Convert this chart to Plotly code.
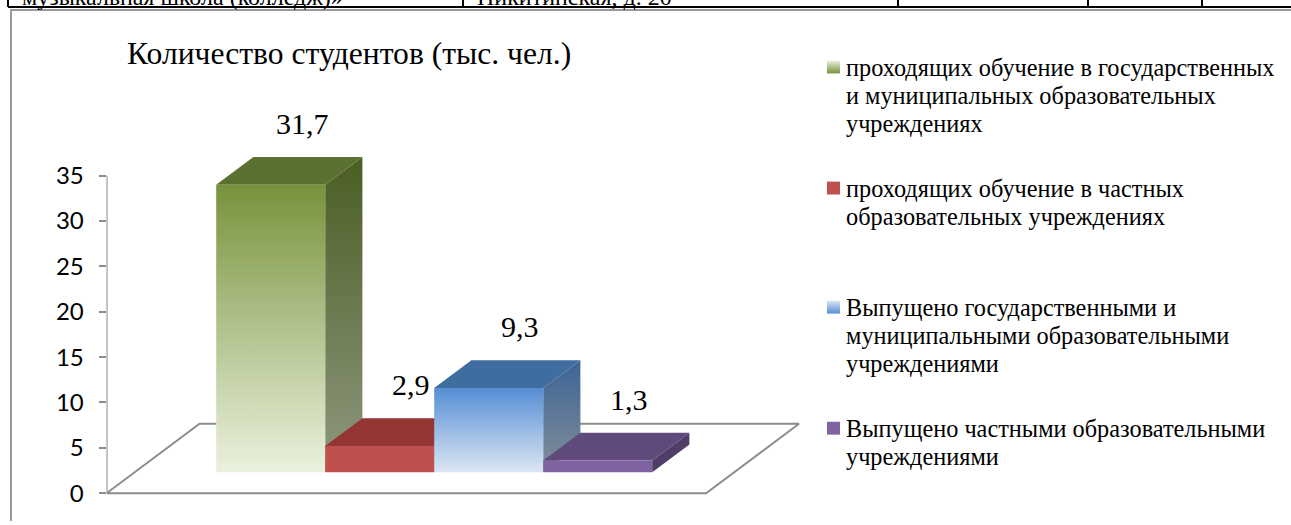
import plotly.graph_objects as go

# ---------------- data ----------------
TITLE = "Количество студентов (тыс. чел.)"
SERIES = [
    ["проходящих обучение в государственных", "и муниципальных образовательных", "учреждениях"],
    ["проходящих обучение в частных", "образовательных учреждениях"],
    ["Выпущено государственными и", "муниципальными образовательными", "учреждениями"],
    ["Выпущено частными образовательными", "учреждениями"],
]
VALUES = [31.7, 2.9, 9.3, 1.3]
Y_TICKS = [0, 5, 10, 15, 20, 25, 30, 35]
TABLE_TEXT = ["музыкальная школа (колледж)»", "Никитинская, д. 20"]

# ---------------- styles ----------------
FRONT = [("#EBF1DE", "#77933C"), ("#C0504D", "#C0504D"), ("#DCE6F2", "#558ED5"), ("#8064A2", "#8064A2")]
TOP = ["#5B7131", "#943634", "#3F6DA0", "#604A7B"]
SIDE = [("#8F9880", "#4A5E23"), ("#7A2B29", "#7A2B29"), ("#838E98", "#3C6496"), ("#503D68", "#503D68")]
SERIF = "Liberation Serif, Times New Roman, DejaVu Serif, serif"
SANS = "Lato, Noto Sans, sans-serif"

W, H = 1291, 525
CAT_PX = 109.0       # px per category unit
VAL_PX = 9.143       # px per value unit
ORIGIN = (188.3, 497.0)  # px of category 0, depth 0, value 0
DX = 93.0 / CAT_PX   # full floor depth, x shift (category units)
DY = 70.0 / VAL_PX   # full floor depth, y shift (value units)
Z0, Z1 = 0.3, 0.7    # bar depth span
XR = [-0.75, 5.7]
YR = [-1.0, 42.0]

def xdom(v):
    return (ORIGIN[0] + v * CAT_PX) / W

def ydom(v):
    return (H - (ORIGIN[1] - v * VAL_PX)) / H

def proj(x, z, v):
    return x + z * DX, v + z * DY

fig = go.Figure()

def poly(pts, c_bottom, c_top, xa="x", ya="y", reverse=False):
    xs = [p[0] for p in pts] + [pts[0][0]]
    ys = [p[1] for p in pts] + [pts[0][1]]
    kw = {}
    if c_bottom != c_top:
        cs = [[0, c_top], [1, c_bottom]] if reverse else [[0, c_bottom], [1, c_top]]
        kw["fillgradient"] = dict(type="vertical", colorscale=cs)
    fig.add_trace(go.Scatter(x=xs, y=ys, mode="lines", fill="toself",
                             fillcolor=c_top, line=dict(width=0),
                             hoverinfo="skip", xaxis=xa, yaxis=ya, **kw))

# floor outline
n = len(VALUES)
fl = [proj(XR[0], 0, 0), proj(XR[0], 1, 0), proj(n + 0.75, 1, 0), proj(n + 0.75, 0, 0)]
fig.add_trace(go.Scatter(x=[p[0] for p in fl] + [fl[0][0]], y=[p[1] for p in fl] + [fl[0][1]],
                         mode="lines", line=dict(color="#8C8C8C", width=2),
                         hoverinfo="skip"))
# value axis line
fig.add_trace(go.Scatter(x=[XR[0], XR[0]], y=[Y_TICKS[0], Y_TICKS[-1]], mode="lines",
                         line=dict(color="#8C8C8C", width=2), hoverinfo="skip"))

annotations = []
for i, v in enumerate(VALUES):
    side = [proj(i + 1, Z0, 0), proj(i + 1, Z1, 0), proj(i + 1, Z1, v), proj(i + 1, Z0, v)]
    top = [proj(i, Z0, v), proj(i + 1, Z0, v), proj(i + 1, Z1, v), proj(i, Z1, v)]
    front = [proj(i, Z0, 0), proj(i + 1, Z0, 0), proj(i + 1, Z0, v), proj(i, Z0, v)]
    poly(side, SIDE[i][0], SIDE[i][1])
    poly(top, TOP[i], TOP[i])
    poly(front, FRONT[i][0], FRONT[i][1])
    annotations.append(dict(
        x=i + 0.5 + DX * (Z0 + Z1) / 2 + 0.12, y=v + DY * Z1 + 3.7,
        xref="x", yref="y", text=f"{v:.1f}".replace(".", ","), showarrow=False,
        font=dict(family=SERIF, size=30, color="black"), xanchor="center", yanchor="middle"))

# legend (pixel overlay axes)
LEG_Y = [68, 190, 310, 432]
LINE_H = 28
for k, lines in enumerate(SERIES):
    y0 = LEG_Y[k]
    sq = [(827, y0 - 7), (840, y0 - 7), (840, y0 + 6), (827, y0 + 6)]
    poly(sq, FRONT[k][0], FRONT[k][1], xa="x2", ya="y2", reverse=True)
    for j, t in enumerate(lines):
        annotations.append(dict(x=844, y=y0 + j * LINE_H, xref="x2", yref="y2", text=t,
                                showarrow=False, xanchor="left", yanchor="middle",
                                font=dict(family=SERIF, size=24.3, color="black")))

annotations.append(dict(x=125, y=54, xref="x2", yref="y2", text=TITLE, showarrow=False,
                        xanchor="left", yanchor="middle",
                        font=dict(family=SERIF, size=31.6, color="black")))
# clipped table text above the chart (paper coords, partly outside the page)
for tx, t in zip([20, 475], TABLE_TEXT):
    annotations.append(dict(x=tx / W, y=1 + 3 / H, xref="paper", yref="paper", text=t,
                            showarrow=False, xanchor="left", yanchor="middle",
                            font=dict(family=SERIF, size=24, color="black")))

shapes = [
    dict(type="rect", xref="x2", yref="y2", x0=11, y0=10, x1=1300, y1=540,
         line=dict(color="#9A9A9A", width=2), fillcolor="rgba(0,0,0,0)"),
    dict(type="line", xref="x2", yref="y2", x0=8, y0=7, x1=1300, y1=7,
         line=dict(color="black", width=2)),
]
for vx in [8, 463, 898, 1088, 1202]:
    shapes.append(dict(type="line", xref="x2", yref="y2", x0=vx, y0=-5, x1=vx, y1=7,
                       line=dict(color="black", width=2)))

fig.update_layout(
    width=W, height=H, autosize=False,
    margin=dict(l=0, r=0, t=0, b=0, pad=0),
    paper_bgcolor="white", plot_bgcolor="rgba(0,0,0,0)",
    showlegend=False,
    xaxis=dict(domain=[xdom(XR[0]), xdom(XR[1])], range=XR, visible=False, anchor="y"),
    yaxis=dict(domain=[ydom(YR[0]), ydom(YR[1])], range=YR, anchor="x",
               tickvals=Y_TICKS, ticktext=[str(t) for t in Y_TICKS],
               ticks="outside", ticklen=7, tickwidth=2, tickcolor="#8C8C8C",
               ticklabelstandoff=10,
               showgrid=False, zeroline=False, showline=False,
               tickfont=dict(family=SANS, size=24, color="black")),
    xaxis2=dict(domain=[0, 1], range=[0, W], visible=False, anchor="y2"),
    yaxis2=dict(domain=[0, 1], range=[H, 0], visible=False, anchor="x2"),
    annotations=annotations, shapes=shapes,
)

fig.write_html("out.html", config={"displayModeBar": False},
               post_script="document.body.style.margin='0px';")
